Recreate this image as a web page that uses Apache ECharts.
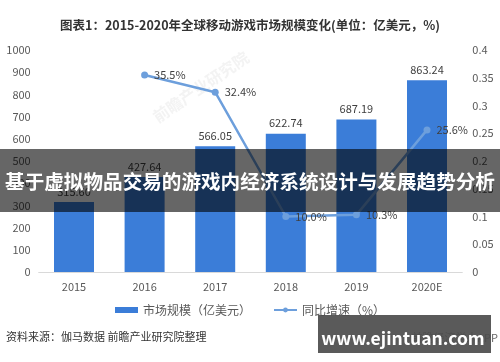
<!DOCTYPE html>
<html><head><meta charset="utf-8">
<script src="https://cdn.jsdelivr.net/npm/echarts@6/dist/echarts.min.js"></script>
<style>html,body{margin:0;padding:0;background:#fff}#c{width:500px;height:362px}</style>
</head><body><div id="c"></div>
<script>
var categories = ['2015','2016','2017','2018','2019','2020E'];
var marketSize = [315.6, 427.64, 566.05, 622.74, 687.19, 863.24];
var growth = [null, 0.355, 0.324, 0.100, 0.103, 0.256];
var leftTicks = {min:0, max:1000, interval:100};
var rightTicks = {min:0, max:0.4, interval:0.05};

var FONT = '"Noto Sans CJK SC", "Noto Sans", sans-serif';
var chart = echarts.init(document.getElementById('c'));
chart.setOption({
  animation:false,
  textStyle:{fontFamily:FONT},
  title:{text:'图表1：2015-2020年全球移动游戏市场规模变化(单位：亿美元，%)',left:'center',top:14,
    textStyle:{fontSize:12.5,fontWeight:'bold',color:'#333',fontFamily:FONT}},
  grid:{left:38.7,right:37.7,top:50,bottom:90,containLabel:false},
  legend:{bottom:41,left:'center',itemGap:22,itemWidth:23,itemHeight:6,
    textStyle:{fontSize:12,color:'#595959',fontFamily:FONT},
    data:[{name:'市场规模（亿美元）',icon:'rect'},{name:'同比增速（%）'}]},
  xAxis:{type:'category',data:categories,
    axisLine:{lineStyle:{color:'#d9d9d9'}},axisTick:{show:false},
    axisLabel:{color:'#595959',fontSize:11,margin:9,fontFamily:FONT}},
  yAxis:[
    {type:'value',min:leftTicks.min,max:leftTicks.max,interval:leftTicks.interval,
     splitLine:{show:false},axisLine:{show:false},axisTick:{show:false},
     axisLabel:{color:'#595959',fontSize:11,margin:8,fontFamily:FONT,formatter:function(v){return String(v);}}},
    {type:'value',min:rightTicks.min,max:rightTicks.max,interval:rightTicks.interval,
     splitLine:{show:false},axisLine:{show:false},axisTick:{show:false},
     axisLabel:{color:'#595959',fontSize:11,margin:10,fontFamily:FONT,formatter:function(v){return String(+v.toFixed(2));}}}
  ],
  series:[
    {name:'市场规模（亿美元）',type:'bar',data:marketSize,barWidth:40,
     itemStyle:{color:'#3b7dd8'},
     label:{show:true,position:'top',color:'#404040',fontSize:11,distance:5,fontFamily:FONT,
       formatter:function(p){return p.value.toFixed(2);}}},
    {name:'同比增速（%）',type:'line',yAxisIndex:1,data:growth,
     symbol:'circle',symbolSize:7,lineStyle:{color:'#6d9fdc',width:2.5},
     itemStyle:{color:'#6d9fdc'},
     label:{show:true,position:'right',distance:6,color:'#404040',fontSize:11,fontFamily:FONT,
       formatter:function(p){return (p.value*100).toFixed(1)+'%';}}}
  ],
  graphic:[
    {type:'text',left:6,top:331,style:{text:'资料来源：伽马数据 前瞻产业研究院整理',fill:'#333',font:'11px '+FONT}},
    {type:'text',right:2,top:332,style:{text:'前瞻经济学人APP',fill:'#666',font:'11px '+FONT}},
    {type:'text',x:150,y:112,rotation:0.6,style:{text:'前瞻产业研究院',fill:'rgba(200,200,200,0.22)',font:'bold 16px '+FONT}},
    {type:'rect',shape:{x:0,y:149,width:500,height:63},style:{fill:'rgba(0,0,0,0.6)'},z:100},
    {type:'text',x:250,y:182,z:101,style:{text:'基于虚拟物品交易的游戏内经济系统设计与发展趋势分析',fill:'#fff',
      font:'bold 19.6px '+FONT,align:'center',verticalAlign:'middle'}},
    {type:'rect',shape:{x:318,y:315,width:173,height:38},style:{fill:'rgba(77,77,77,0.93)'},z:100},
    {type:'text',x:403,y:338,z:101,style:{text:'www.ejintuan.com',fill:'#fff',
      font:'bold 17.5px '+FONT,align:'center',verticalAlign:'middle'}}
  ]
});
</script></body></html>
